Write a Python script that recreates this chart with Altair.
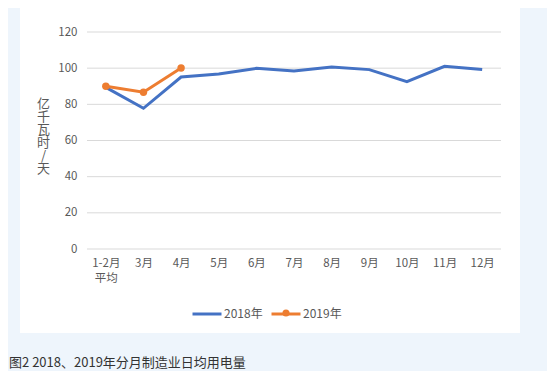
import altair as alt
import pandas as pd

months = ["1-2月\n平均", "3月", "4月", "5月", "6月", "7月", "8月", "9月", "10月", "11月", "12月"]
v2018 = [89.4, 77.8, 95.1, 96.8, 99.9, 98.4, 100.6, 99.2, 92.5, 101.0, 99.2]
months2019 = ["1-2月\n平均", "3月", "4月"]
v2019 = [90.0, 86.7, 100.1]
series = ["2018年", "2019年"]
colors = ["#4472C4", "#ED7D31"]
yticks = [0, 20, 40, 60, 80, 100, 120]
ytitle = ["亿", "千", "瓦", "时", "/", "天"]
caption = "图2 2018、2019年分月制造业日均用电量"

df = pd.DataFrame({
    "月份": months + months2019,
    "电量": v2018 + v2019,
    "年份": [series[0]] * len(v2018) + [series[1]] * len(v2019),
})
grid_df = pd.DataFrame({"电量": yticks})

FONT = "Noto Sans CJK SC"

panel = alt.Chart(pd.DataFrame({"p": [0]})).mark_rect(color="white").encode(
    x=alt.value(-67), x2=alt.value(433), y=alt.value(-27), y2=alt.value(301)
)

yscale = alt.Scale(domain=[0, 120])
y = alt.Y("电量:Q", title=ytitle, scale=yscale,
          axis=alt.Axis(values=yticks, ticks=False, domain=False, grid=False,
                        labelPadding=10, zindex=1, labelOverlap=False,
                        labelFontSize=11.5, labelColor="#595959", labelFont=FONT,
                        titleAngle=0, titleX=-44, titleY=71, titleAlign="center",
                        titleBaseline="middle", titleLineHeight=13,
                        titleFontSize=13, titleFontWeight="normal",
                        titleColor="#595959", titleFont=FONT))

grid = alt.Chart(grid_df).mark_rule(color="#d9d9d9", strokeWidth=1).encode(
    y=y, x=alt.value(0), x2=alt.value(414)
)

x = alt.X("月份:N", sort=months, title=None,
          scale=alt.Scale(type="point", padding=0.5),
          axis=alt.Axis(labelAngle=0, labelExpr="split(datum.label, '\\n')",
                        ticks=False, domain=False, grid=False, labelPadding=8,
                        labelFontSize=11.5, labelColor="#595959", labelFont=FONT,
                        labelLineHeight=15, zindex=1))
color = alt.Color("年份:N", scale=alt.Scale(domain=series, range=colors),
                  legend=alt.Legend(title=None, orient="none", direction="horizontal",
                                    legendX=104, legendY=266, symbolSize=841,
                                    symbolType="stroke", symbolStrokeWidth=3,
                                    labelFontSize=12, padding=0, zindex=1,
                                    labelColor="#595959", labelFont=FONT,
                                    labelOffset=1, columnPadding=2))
fill = alt.Fill("年份:N", scale=alt.Scale(domain=[series[1]], range=[colors[1]]),
                legend=alt.Legend(title=None, orient="none",
                                  legendX=193, legendY=275, padding=0, zindex=2,
                                  symbolType="circle", symbolSize=50,
                                  symbolStrokeWidth=0, symbolOpacity=1,
                                  labelExpr="''", labelOpacity=0,
                                  labelFontSize=12, labelFont=FONT))

lines = alt.Chart(df).mark_line(strokeWidth=3).encode(x=x, y=y, color=color)
points = alt.Chart(df).transform_filter(alt.datum["年份"] == series[1]).mark_point(
    filled=True, size=55, opacity=1, strokeWidth=0).encode(x=x, y=y, fill=fill)

chart = alt.layer(panel, grid, lines, points).properties(
    width=414, height=217,
    autosize=alt.AutoSizeParams(type="none"),
    padding={"left": 79, "top": 24, "right": 46, "bottom": 122},
    background="#EEF5FC",
    title=alt.TitleParams(caption, orient="bottom", anchor="start", frame="group",
                          dx=-78, offset=24, fontSize=13, fontWeight="normal",
                          color="#333333", font=FONT, zindex=1),
).configure_view(stroke=None)

chart.save("out.html", embed_options={"renderer": "svg", "actions": False})
